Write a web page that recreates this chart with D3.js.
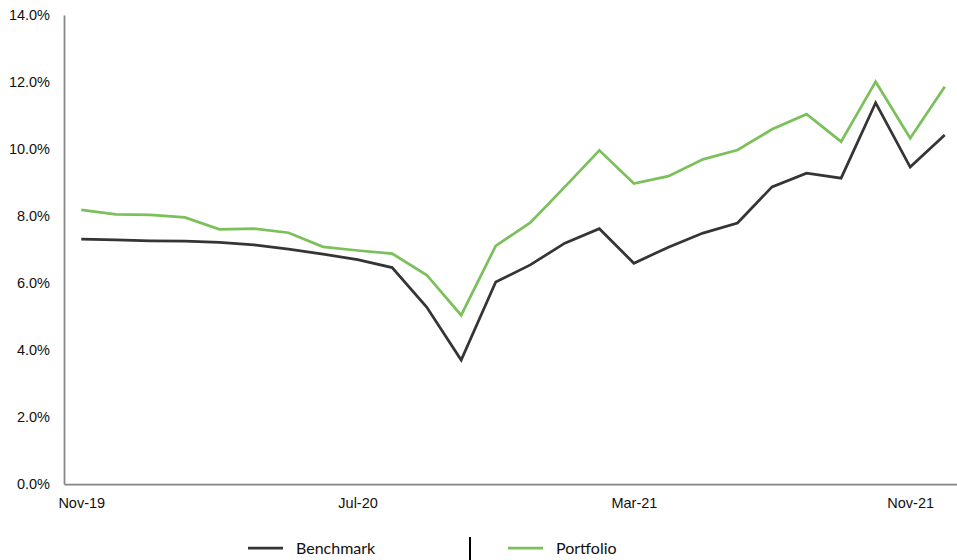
<!DOCTYPE html>
<html>
<head>
<meta charset="utf-8">
<script src="https://cdn.jsdelivr.net/npm/d3@7"></script>
<style>
  html, body { margin: 0; padding: 0; background: #fff; }
  svg { display: block; }
</style>
</head>
<body>
<svg id="chart" width="957" height="560"></svg>
<script>
const months = ["Nov-19","Dec-19","Jan-20","Feb-20","Mar-20","Apr-20","May-20","Jun-20","Jul-20","Aug-20","Sep-20","Oct-20","Nov-20","Dec-20","Jan-21","Feb-21","Mar-21","Apr-21","May-21","Jun-21","Jul-21","Aug-21","Sep-21","Oct-21","Nov-21","Dec-21"];
const benchmark = [7.31,7.29,7.26,7.25,7.21,7.14,7.01,6.86,6.70,6.46,5.28,3.70,6.03,6.54,7.19,7.62,6.59,7.07,7.49,7.79,8.87,9.28,9.13,11.38,9.46,10.42];
const portfolio = [8.18,8.05,8.03,7.96,7.60,7.62,7.50,7.08,6.97,6.88,6.24,5.04,7.11,7.80,8.87,9.96,8.97,9.19,9.69,9.97,10.59,11.04,10.22,12.01,10.32,11.86];
const xTickLabels = ["Nov-19","Jul-20","Mar-21","Nov-21"];
const yTicks = [0,2,4,6,8,10,12,14];
const seriesNames = ["Benchmark","Portfolio"];
const colors = ["#353535","#7cc05c"];

const svg = d3.select("#chart");
const mLeft = 64, mRight = 962, mTop = 15, mBottom = 484;

const x = d3.scalePoint().domain(months).range([mLeft, mRight]).padding(0.5);
const y = d3.scaleLinear().domain([0, 14]).range([mBottom, mTop]);

// axes
const yAxis = d3.axisLeft(y).tickValues(yTicks).tickFormat(d => d.toFixed(1) + "%").tickSize(0).tickSizeOuter(0).tickPadding(14);
const gy = svg.append("g").attr("transform", `translate(${mLeft},0)`).call(yAxis);
gy.select(".domain").attr("stroke", "#858585").attr("stroke-width", 1.75);
gy.selectAll("text").attr("font-family", "'Liberation Sans', Arial, sans-serif").attr("font-size", 14.5).attr("fill", "#111");

const xAxis = d3.axisBottom(x).tickValues(xTickLabels).tickSize(0).tickSizeOuter(0).tickPadding(13.5);
const gx = svg.append("g").attr("transform", `translate(0,${mBottom})`).call(xAxis);
gx.select(".domain").attr("stroke", "#858585").attr("stroke-width", 1.75);
gx.selectAll("text").attr("font-family", "'Liberation Sans', Arial, sans-serif").attr("font-size", 14.5).attr("fill", "#111");

// lines
const line = d3.line().x((d, i) => x(months[i])).y(d => y(d));
[benchmark, portfolio].forEach((s, i) => {
  svg.append("path").datum(s)
    .attr("fill", "none")
    .attr("stroke", colors[i])
    .attr("stroke-width", 2.75)
    .attr("stroke-linejoin", "miter")
    .attr("d", line);
});

// legend
const legend = svg.append("g").attr("font-family", "Lato, 'Open Sans', sans-serif").attr("font-size", 16).attr("fill", "#111");
const legX = [248, 508];
seriesNames.forEach((n, i) => {
  legend.append("line").attr("x1", legX[i]).attr("x2", legX[i] + 35).attr("y1", 548).attr("y2", 548)
    .attr("stroke", colors[i]).attr("stroke-width", 2.75);
  legend.append("text").attr("x", legX[i] + 48).attr("y", 553.5).text(n);
});
legend.append("line").attr("x1", 470).attr("x2", 470).attr("y1", 537).attr("y2", 560).attr("stroke", "#000").attr("stroke-width", 2);
</script>
</body>
</html>
